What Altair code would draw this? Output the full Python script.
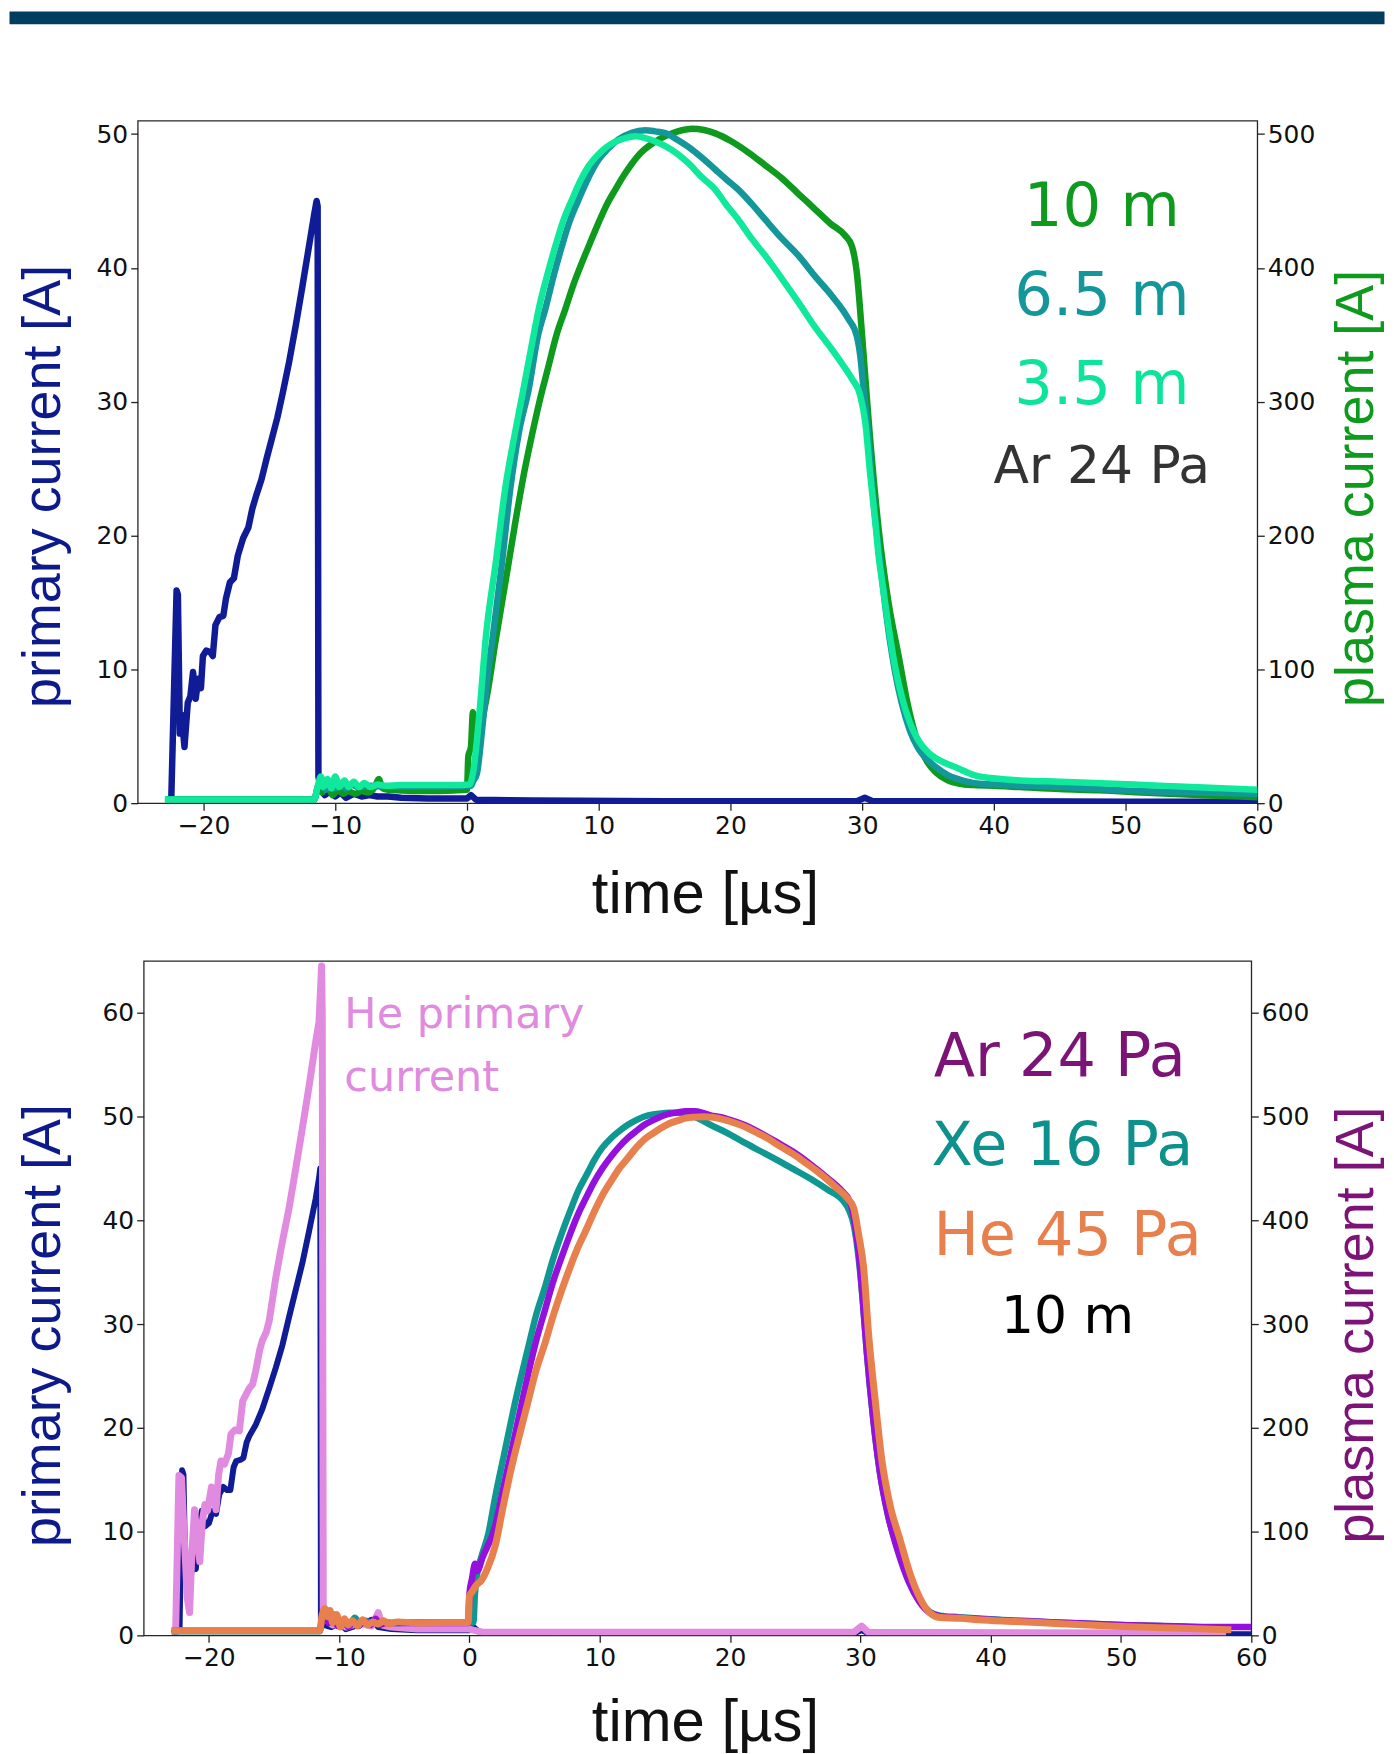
import altair as alt
import pandas as pd

# ---------------------------------------------------------------- data
# Upper panel: Ar 24 Pa, three cable lengths.  (time [us], current [A])
top_primary = [(-22.6, 0.3), (-22.45, 0.4), (-22.05, 15.9), (-21.95, 15.6), (-21.8, 5.2), (-21.68, 6.6),
               (-21.45, 4.2), (-21.2, 7.5), (-21.0, 8.0), (-20.8, 9.8), (-20.6, 7.8), (-20.4, 9.3),
               (-20.2, 8.6), (-20.05, 11.0), (-19.8, 11.4), (-19.5, 11.3), (-19.3, 11.0), (-19.1, 13.3),
               (-18.8, 13.9), (-18.5, 14.0), (-18.3, 15.3), (-18.0, 16.5), (-17.7, 16.8), (-17.4, 18.5),
               (-17.0, 19.8), (-16.6, 20.6), (-16.3, 22.0), (-16.0, 23.0), (-15.6, 24.2), (-15.2, 25.8),
               (-14.8, 27.3), (-14.4, 28.8), (-14.0, 30.6), (-13.5, 33.0), (-13.0, 35.7), (-12.5, 38.6),
               (-12.0, 41.6), (-11.6, 44.0), (-11.42, 45.0), (-11.34, 44.6), (-11.28, 2.0), (-11.1, 1.0),
               (-10.8, 0.6), (-10.4, 0.9), (-10.0, 0.5), (-9.6, 0.8), (-9.2, 0.4), (-8.6, 0.7), (-8.0, 0.5),
               (-7.4, 0.6), (-6.8, 0.5), (-6.0, 0.5), (-5.0, 0.4), (-3.0, 0.35), (-1.0, 0.35), (0.0, 0.35),
               (0.3, 0.6), (0.7, 0.25), (5.0, 0.2), (15.0, 0.15), (29.6, 0.15), (30.2, 0.4), (30.8, 0.15),
               (40.0, 0.15), (50.0, 0.1), (60.0, 0.1)]

top_10m = [(-22.6, 3), (-18, 3), (-11.6, 3), (-11.3, 12), (-11.0, 8), (-10.6, 14), (-10.2, 6), (-9.8, 10),
           (-9.4, 7), (-9.0, 9), (-8.5, 7), (-8.0, 9), (-7.5, 8), (-7.0, 12), (-6.7, 18), (-6.4, 11),
           (-6.0, 10), (-5.0, 9.5), (-3.0, 9), (-1.0, 9.5), (0.0, 10), (0.1, 35), (0.3, 42), (0.45, 68),
           (0.7, 50), (0.9, 48), (1.2, 64), (1.6, 85), (2.15, 120), (3.0, 170), (3.67, 210), (4.3, 245),
           (4.93, 275), (5.5, 300), (6.2, 327), (6.8, 350), (7.46, 369), (8.1, 388), (8.73, 404),
           (9.4, 420), (10.0, 434), (10.6, 447), (11.26, 458.5), (11.9, 469), (12.53, 478), (13.2, 486),
           (13.8, 491), (14.4, 495), (15.06, 498.4), (16.0, 502), (17.1, 504), (18.0, 503),
           (18.85, 500.5), (20.0, 495), (21.4, 486), (22.6, 477), (23.9, 467), (25.2, 455),
           (26.45, 443.6), (27.6, 433), (28.72, 424), (29.23, 416), (29.6, 396), (30.0, 349),
           (30.5, 285), (31.25, 205), (32.0, 150), (32.77, 110), (33.5, 72), (34.2, 46), (35.0, 30),
           (35.6, 23), (36.5, 17), (37.4, 14.5), (38.5, 13.5), (40, 13), (42, 12), (45, 10.5),
           (48, 9.6), (52, 7.5), (56, 6), (60, 4.5)]

top_6_5m = [(-22.6, 2.5), (-11.6, 2.5), (-11.3, 13), (-11.0, 18), (-10.7, 10), (-10.3, 16), (-10.0, 11),
            (-9.6, 15), (-9.2, 11), (-8.8, 14), (-8.3, 12), (-7.5, 13), (-6.5, 12.5), (-5, 12.5),
            (-2, 12.5), (0.3, 13), (0.45, 16), (0.75, 22), (1.2, 60), (1.62, 100), (1.9, 120),
            (2.6, 175), (3.29, 235), (3.94, 277), (4.68, 309), (5.4, 350), (5.94, 369), (6.6, 395),
            (7.2, 416), (7.8, 435), (8.47, 451), (9.2, 467), (10.0, 481), (10.7, 489), (11.5, 496),
            (12.5, 501), (13.54, 502.8), (14.3, 502), (15.06, 500.8), (16.0, 495.5), (17.08, 488.4),
            (18.0, 481), (18.85, 473.5), (19.7, 466), (20.6, 458.5), (21.6, 448), (22.65, 436),
            (23.9, 422), (25.18, 409), (26.4, 394), (27.71, 379), (28.97, 361.6), (29.6, 349),
            (29.86, 334), (30.1, 310), (30.4, 283), (30.7, 245), (31.0, 212), (31.25, 190), (31.6, 160),
            (32.1, 122), (32.5, 98), (33.0, 75), (33.6, 55), (34.2, 42), (35.0, 32), (35.6, 27),
            (36.5, 21), (37.1, 18.5), (38.5, 15), (40, 14), (45, 12), (50, 9.5), (55, 8), (60, 7)]

top_3_5m = [(-22.7, 2.8), (-11.6, 2.8), (-11.3, 14), (-11.1, 20), (-10.9, 12), (-10.6, 18), (-10.3, 11),
            (-10.0, 20), (-9.7, 12), (-9.3, 17), (-9.0, 12), (-8.6, 16), (-8.2, 12), (-7.8, 15),
            (-7.3, 12), (-6.8, 14), (-6.2, 13), (-5, 13.5), (-3, 13.5), (-1, 13.5), (0.2, 14),
            (0.46, 23), (1.04, 78), (1.39, 120), (2.2, 181), (2.9, 235), (3.65, 277), (4.18, 304),
            (5.1, 352), (5.44, 369), (6.1, 395), (6.7, 416), (7.3, 435), (7.97, 451), (8.6, 465),
            (9.23, 476), (9.9, 484), (10.5, 489.6), (11.2, 494), (12.0, 497), (12.8, 498.3),
            (13.54, 497), (14.3, 494.5), (15.06, 491), (16.0, 485), (16.83, 478), (17.8, 468),
            (18.85, 458.5), (19.7, 447), (20.6, 436), (21.6, 422), (22.65, 409), (23.9, 392),
            (25.18, 374), (26.4, 356), (27.71, 339), (28.5, 328), (29.23, 317), (29.86, 304.5),
            (30.24, 284.6), (30.62, 245), (31.0, 210), (31.25, 185), (31.6, 160), (32.0, 132),
            (32.5, 102), (33.0, 80), (33.6, 61), (34.2, 48), (35.0, 38), (35.6, 33.6), (36.3, 30),
            (37.1, 26.8), (38.5, 21), (40.3, 18.2), (42, 17), (45, 16), (50.6, 14), (55, 12), (60, 10)]

# Lower panel: 10 m cable, three gases.
bot_ar_primary = [(-22.6, 0.3), (-22.25, 0.5), (-22.05, 15.9), (-21.95, 15.5), (-21.8, 5.5), (-21.6, 7.0),
                  (-21.45, 5.5), (-21.2, 6.8), (-21.0, 6.4), (-20.8, 9.5), (-20.55, 12.0), (-20.3, 10.5),
                  (-20.0, 10.8), (-19.7, 12.0), (-19.45, 11.7), (-19.2, 13.6), (-18.9, 14.3), (-18.6, 14.0),
                  (-18.35, 14.0), (-18.1, 16.2), (-17.9, 16.8), (-17.6, 16.9), (-17.35, 17.1), (-17.1, 18.6),
                  (-16.9, 19.2), (-16.4, 20.3), (-15.9, 21.8), (-15.37, 23.8), (-14.86, 25.8),
                  (-14.35, 28.0), (-13.84, 30.7), (-13.33, 33.3), (-12.82, 35.9), (-12.3, 39.0),
                  (-11.8, 42.1), (-11.55, 44.0), (-11.45, 45.0), (-11.4, 1.5), (-11.2, 1.0), (-10.6, 0.8),
                  (-10.0, 1.2), (-9.5, 0.6), (-8.5, 1.0), (-7.5, 1.5), (-7.0, 0.8), (-6.0, 0.6), (-4.0, 0.5),
                  (-2.0, 0.5), (0.0, 0.5), (0.3, 0.8), (0.8, 0.3), (10.0, 0.2), (29.5, 0.2), (30.1, 0.5),
                  (30.6, 0.2), (45, 0.15), (60, 0.1)]

bot_he_primary = [(-22.55, 0.4), (-22.3, 15.4), (-22.1, 15.2), (-21.87, 9.0), (-21.65, 3.5), (-21.48, 2.2),
                  (-21.3, 8.0), (-21.1, 12.1), (-20.9, 9.5), (-20.7, 7.1), (-20.5, 11.0), (-20.3, 12.6),
                  (-20.1, 12.0), (-19.8, 14.3), (-19.6, 13.5), (-19.45, 12.1), (-19.25, 15.5),
                  (-19.07, 16.8), (-18.8, 16.5), (-18.5, 17.5), (-18.3, 19.4), (-18.0, 19.8),
                  (-17.66, 19.7), (-17.4, 22.6), (-17.15, 23.2), (-16.9, 23.8), (-16.64, 24.2),
                  (-16.4, 25.5), (-16.1, 27.5), (-15.9, 28.4), (-15.6, 29.2), (-15.37, 30.3), (-15.1, 32.5),
                  (-14.86, 34.5), (-14.6, 36.3), (-14.35, 38.0), (-13.84, 41.2), (-13.33, 45.0),
                  (-12.82, 48.9), (-12.3, 53.0), (-11.8, 57.2), (-11.55, 59.1), (-11.42, 62.5),
                  (-11.35, 64.5), (-11.3, 60.0), (-11.22, 2.5), (-11.0, 1.5), (-10.5, 1.0), (-10.0, 1.3),
                  (-9.5, 0.8), (-8.5, 1.2), (-7.5, 0.9), (-7.0, 2.2), (-6.7, 1.0), (-6.0, 0.8), (-4.0, 0.6),
                  (-2.0, 0.6), (0.0, 0.6), (0.3, 0.5), (1.0, 0.3), (29.5, 0.3), (30.1, 0.9), (30.6, 0.3),
                  (57.8, 0.2)]

bot_xe = [(-22.6, 4), (-11.5, 4), (-11.3, 18), (-11.0, 24), (-10.7, 13), (-10.4, 20), (-10.0, 10),
          (-9.6, 14), (-9.2, 10), (-8.8, 17), (-8.4, 11), (-8.0, 14), (-7.5, 12), (-7.0, 13), (-6.0, 12),
          (-4, 12.5), (-2, 12.5), (0.3, 12.5), (0.42, 40), (0.6, 60), (0.9, 75), (1.45, 98), (2.0, 135),
          (2.72, 178), (3.6, 230), (4.51, 277.5), (5.1, 308), (5.78, 335), (6.4, 362), (7.06, 386.5),
          (7.7, 408), (8.33, 428), (9.0, 444), (9.6, 458.5), (10.2, 470), (10.88, 479.3), (11.5, 486),
          (12.16, 492), (12.8, 496.5), (13.43, 500), (14.1, 502), (14.7, 503), (15.3, 503.5),
          (15.98, 503.5), (16.6, 502.5), (17.25, 500), (17.9, 496), (18.5, 492), (19.8, 484),
          (21.07, 475), (22.35, 466.5), (23.62, 458), (24.9, 449), (26.17, 440), (27.45, 429.7),
          (28.7, 418.4), (29.1, 410.5), (29.5, 395), (29.9, 360), (30.2, 320), (30.5, 272), (31.0, 207),
          (31.5, 157), (32.1, 117), (32.9, 82), (33.7, 53), (34.5, 34), (35.3, 23), (36.1, 19),
          (37.6, 17.5), (40, 15.5), (45, 12.5), (50, 10), (55, 8), (58, 6)]

bot_ar = [(-22.6, 4.5), (-11.5, 4.5), (-11.3, 15), (-11.05, 22), (-10.8, 12), (-10.5, 19), (-10.1, 9),
          (-9.7, 15), (-9.3, 8), (-8.9, 13), (-8.5, 9), (-8.1, 14), (-7.6, 10), (-7.2, 16), (-6.9, 10),
          (-6.4, 12), (-5, 12), (-2, 12), (-0.1, 12), (0.0, 40), (0.2, 55), (0.43, 69), (0.6, 62),
          (1.0, 75), (1.96, 104.6), (2.6, 142), (3.23, 178), (3.9, 217), (4.51, 252), (5.1, 283),
          (5.78, 313), (6.4, 340), (7.06, 364), (7.7, 386), (8.33, 405.7), (9.0, 423), (9.6, 437.7),
          (10.2, 450), (10.88, 461.7), (11.5, 471), (12.16, 479.3), (12.8, 486), (13.43, 492),
          (14.1, 496.5), (14.7, 500), (15.3, 502.5), (15.98, 504), (16.6, 505), (17.25, 505),
          (17.9, 503.5), (18.5, 501), (19.2, 499.5), (19.8, 497.5), (21.07, 492), (22.35, 484),
          (23.62, 475), (24.9, 465.5), (26.17, 454), (27.45, 441), (28.6, 428), (29.2, 418),
          (29.6, 395), (29.9, 365), (30.2, 320), (30.5, 272), (31.0, 207), (31.5, 157), (32.1, 117),
          (32.9, 80), (33.7, 52), (34.5, 33), (35.3, 22), (36.1, 18.5), (37.6, 17), (40, 15),
          (45, 12.5), (50, 10), (55, 8.5), (57.5, 8), (60, 8)]

bot_he = [(-22.6, 4.4), (-11.5, 4.4), (-11.3, 20), (-11.1, 26), (-10.9, 18), (-10.7, 24), (-10.5, 12),
          (-10.2, 20), (-9.9, 8), (-9.6, 16), (-9.3, 10), (-9.0, 14), (-8.6, 9), (-8.2, 15), (-7.8, 10),
          (-7.4, 13), (-7.0, 11), (-6.6, 14), (-6.2, 11), (-5.5, 13), (-4, 12), (-2, 12.5),
          (-0.1, 12.5), (0.0, 38), (0.2, 42), (0.5, 48), (0.94, 53.4), (1.4, 65), (1.96, 85.4),
          (2.6, 125), (3.23, 162), (3.9, 196), (4.51, 226), (5.1, 255), (5.78, 281), (6.4, 307),
          (7.06, 332), (7.7, 354), (8.33, 374), (9.0, 392), (9.6, 409), (10.2, 424), (10.88, 438),
          (11.5, 450), (12.16, 460), (12.8, 470), (13.43, 478), (14.1, 484), (14.7, 489), (15.3, 493),
          (15.98, 496), (16.6, 498.5), (17.25, 499.4), (18.0, 499.8), (18.52, 499.4), (19.2, 498),
          (19.8, 496), (20.4, 493.5), (21.07, 490.5), (21.7, 486.5), (22.35, 482.5), (23.0, 478),
          (23.62, 473), (24.3, 468), (24.9, 463.3), (25.5, 458), (26.17, 452), (26.8, 446),
          (27.45, 439.3), (28.2, 431), (28.98, 421.6), (29.48, 412), (29.86, 386.5), (30.25, 354.4),
          (30.63, 290.4), (31.14, 226.3), (31.65, 168.7), (32.29, 125), (33.05, 92), (33.8, 60),
          (34.57, 36), (35.3, 22), (36.1, 17.2), (37.6, 16.5), (39, 15), (41.9, 13.3), (45, 11.5),
          (49.5, 8.8), (54, 7), (58.2, 5.4)]

# annotation texts, anchored in data coordinates (time, plasma current)
top_labels = ["10 m", "6.5 m", "3.5 m", "Ar 24 Pa"]
top_label_t = [48.2, 48.2, 48.2, 48.2]
top_label_v = [431.5, 364.6, 298.2, 239.1]

bot_labels = ["Ar 24 Pa", "Xe 16 Pa", "He 45 Pa", "10 m"]
bot_label_t = [45.3, 45.5, 45.9, 45.9]
bot_label_v = [539.0, 453.0, 367.0, 291.0]

he_note = ["He primary", "current"]
he_note_t = [-9.6, -9.6]
he_note_v = [585.7, 525.0]

# ---------------------------------------------------------------- styles
C_BLUE = "#101b96"
C_GREEN = "#0e9a1c"
C_TEAL = "#14979b"
C_MINT = "#10e89b"
C_PURPLE = "#9410dc"
C_PURPLE_TXT = "#7b1476"
C_XE = "#0f9792"
C_ORANGE = "#e8804e"
C_PINK = "#e08be0"

top_label_colors = [C_GREEN, C_TEAL, "#0ee39a", "#333333"]
top_label_sizes = [61, 61, 61, 52]
bot_label_colors = [C_PURPLE_TXT, "#0e918d", C_ORANGE, "#000000"]
bot_label_sizes = [60.5, 60.5, 60.5, 52]

X_VALUES = [-20, -10, 0, 10, 20, 30, 40, 50, 60]


def frame(pairs):
    return pd.DataFrame(pairs, columns=["t", "v"])


def x_enc(title_x, title_y):
    return alt.X("t:Q", scale=alt.Scale(domain=[-25, 60], nice=False, zero=False),
                 axis=alt.Axis(values=X_VALUES, title="time [µs]", titleFontSize=60,
                               titleColor="#111111", titleX=title_x, titleY=title_y,
                               titleAlign="center", titleBaseline="alphabetic",
                               labelFlush=False, labelOverlap=False))


def y_enc(domain, values, title, color, orient, tx, ty):
    return alt.Y("v:Q", scale=alt.Scale(domain=domain, nice=False, zero=False),
                 axis=alt.Axis(orient=orient, values=values, title=title, titleColor=color,
                               titleFontSize=54, titleAngle=270, titleX=tx, titleY=ty,
                               titleAlign="center", titleBaseline="alphabetic",
                               labelFlush=False, labelOverlap=False))


def line(pairs, color, width, xe, ye, interp="linear"):
    return alt.Chart(frame(pairs)).mark_line(
        color=color, strokeWidth=width, interpolate=interp,
        strokeJoin="round", strokeCap="square", clip=True
    ).encode(x=xe, y=ye)


def labels(texts, ts, vs, colors, sizes, xe, ye, align="center"):
    df = pd.DataFrame({"label": texts, "t": ts, "v": vs, "c": colors, "s": sizes})
    return alt.Chart(df).mark_text(font="DejaVu Sans", align=align, baseline="alphabetic").encode(
        x=xe, y=ye, text="label:N",
        color=alt.Color("c:N", scale=None), size=alt.Size("s:Q", scale=None))


# ---------------------------------------------------------------- upper panel
xt = x_enc(568.5, 110)
yt_p = y_enc([0, 51], [0, 10, 20, 30, 40, 50], "primary current [A]", "#0c1a8c", "left", -78.2, 366)
yt_s = y_enc([0, 510], [0, 100, 200, 300, 400, 500], "plasma current [A]", C_GREEN, "right", 115.5, 368)

# page banner (decoration), kept inside the 1378 px wide drawing
header = alt.Chart(pd.DataFrame({"k": [0]})).mark_rect(color="#003d5e").encode(
    x=alt.value(-128.5), x2=alt.value(1249.5), y=alt.value(-109.5), y2=alt.value(-96.5))

top_prim_layer = alt.layer(line(top_primary, C_BLUE, 6.5, xt, yt_p))
top_plasma_layer = alt.layer(
    line(top_10m, C_GREEN, 6.5, xt, yt_s, "monotone"),
    line(top_6_5m, C_TEAL, 6.5, xt, yt_s, "monotone"),
    line(top_3_5m, C_MINT, 6.5, xt, yt_s, "monotone"),
    labels(top_labels, top_label_t, top_label_v, top_label_colors, top_label_sizes, xt, yt_s),
)
top = alt.layer(header, top_prim_layer, top_plasma_layer).resolve_scale(y="independent").properties(
    width=1122, height=684)

# ---------------------------------------------------------------- lower panel
xb = x_enc(562.5, 105)
yb_p = y_enc([0, 65], [0, 10, 20, 30, 40, 50, 60], "primary current [A]", "#0c1a8c", "left", -84.2, 365)
yb_s = y_enc([0, 650], [0, 100, 200, 300, 400, 500, 600], "plasma current [A]", C_PURPLE_TXT, "right",
             121.5, 364.5)

bot_prim_layer = alt.layer(
    line(bot_ar_primary, C_BLUE, 6, xb, yb_p),
    line(bot_he_primary, C_PINK, 7, xb, yb_p),
)
bot_plasma_layer = alt.layer(
    line(bot_xe, C_XE, 6.5, xb, yb_s, "monotone"),
    line(bot_ar, C_PURPLE, 6.5, xb, yb_s, "monotone"),
    line(bot_he, C_ORANGE, 7, xb, yb_s, "monotone"),
    labels(bot_labels, bot_label_t, bot_label_v, bot_label_colors, bot_label_sizes, xb, yb_s),
    labels(he_note, he_note_t, he_note_v, [C_PINK, C_PINK], [43, 43], xb, yb_s, align="left"),
)
bottom = alt.layer(bot_prim_layer, bot_plasma_layer).resolve_scale(y="independent").properties(
    width=1110, height=676)

chart = alt.vconcat(top, bottom, spacing=158, bounds="flush", center=True).properties(
    padding=0
).configure_view(
    stroke="#262626", strokeWidth=1.3
).configure_axis(
    labelFont="DejaVu Sans", labelFontSize=25, labelColor="#111111", labelPadding=3,
    tickColor="#222222", tickSize=7, tickWidth=1.3, domain=False, grid=False,
    titleFont="Liberation Sans", titleFontWeight="normal"
)

chart.save("out.html", embed_options={"renderer": "svg", "actions": False})
